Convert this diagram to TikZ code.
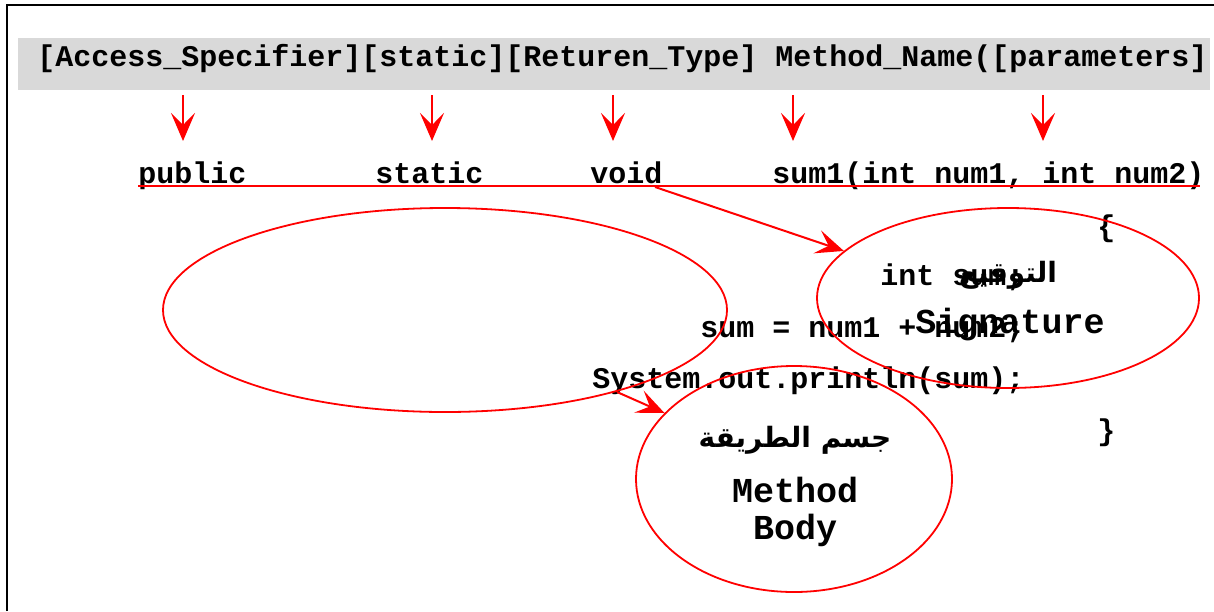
\documentclass[tikz,border=0pt]{standalone}
\usepackage{fontspec}
\setmonofont{Liberation Mono}
\newfontfamily\arabicfont[Script=Arabic]{DejaVu Sans}
\TeXXeTstate=1
\usetikzlibrary{shapes.geometric,arrows.meta}
\definecolor{bargray}{RGB}{217,217,217}

\begin{document}
\begin{tikzpicture}[x=0.5pt,y=-0.5pt]
  \useasboundingbox (0,0) rectangle (1214,611);
  \draw[line width=1pt] (7,611) -- (7,5) -- (1214,5);
  \fill[bargray] (18,38) rectangle (1210,90);
  % code text
  \begin{scope}[every node/.style={font=\ttfamily\bfseries\fontsize{15}{18}\selectfont, inner sep=0pt, anchor=base west}]
    \node (hdr) at (37,66) {[Access\_Specifier][static][Returen\_Type] Method\_Name([parameters]};
    \node (pub) at (138,183) {public};
    \node (stat) at (375,183) {static};
    \node (vd) at (590,183) {void};
    \node (sig1) at (772,183) {sum1(int num1, int num2)};
    \node (ob) at (1097,236) {\{};
    \node (decl) at (880,285) {int sum;};
    \node (add) at (700,337) {sum = num1 + num2;};
    \node (prn) at (592,388) {System.out.println(sum);};
    \node (cb) at (1097,440) {\}};
  \end{scope}
  % ellipses
  \begin{scope}[every node/.style={draw=red, line width=0.9pt, ellipse, inner sep=0pt}]
    \node[minimum width=282pt, minimum height=102pt] (bodyRng) at (445,310) {};
    \node[minimum width=191pt, minimum height=90pt] (sigEll) at (1008,298) {};
    \node[minimum width=158pt, minimum height=113pt] (bodyEll) at (794,479) {};
  \end{scope}
  % labels
  \begin{scope}[every node/.style={font=\ttfamily\bfseries\fontsize{17.5}{20}\selectfont, inner sep=0pt}]
    \node (sigAr) at (1008,275) {\arabicfont\bfseries\fontsize{14}{16}\selectfont\beginR التوقيع\endR};
    \node (sigEn) at (1010,325) {Signature};
    \node (bodyAr) at (795,440) {\arabicfont\bfseries\fontsize{14}{16}\selectfont\beginR جسم الطريقة\endR};
    \node (bodyEn1) at (795,490) {Method};
    \node (bodyEn2) at (795,530) {Body};
  \end{scope}
  \coordinate (ulL) at (138,186);
  \coordinate (ulR) at (1200,186);
  \draw[red, line width=1pt] (ulL) -- (ulR);
  \foreach \n/\x in {a/183, b/432, c/613, d/793, e/1043} {
    \coordinate (\n1) at (\x,95);
    \coordinate (\n2) at (\x,141);
  }
  \coordinate (vdEnd) at (655,187);
  \coordinate (prnEnd) at (617,392);
  \begin{scope}[every edge/.style={draw=red, line width=1pt, -{Stealth[length=14pt,width=12pt,inset=6pt]}}]
    \path (a1) edge (a2);
    \path (b1) edge (b2);
    \path (c1) edge (c2);
    \path (d1) edge (d2);
    \path (e1) edge (e2);
    \path (vdEnd) edge (sigEll.164);
    \path (prnEnd) edge (bodyEll.153);
  \end{scope}
\end{tikzpicture}
\end{document}
